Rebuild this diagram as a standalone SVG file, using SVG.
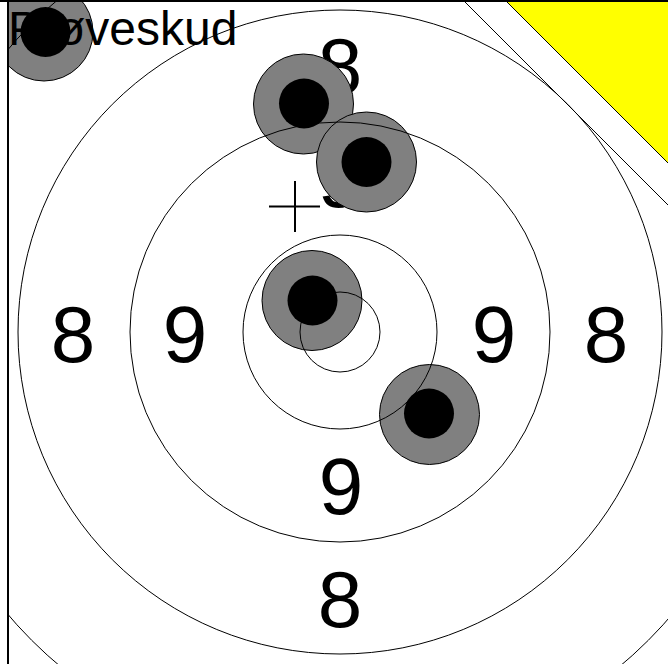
<svg xmlns="http://www.w3.org/2000/svg" width="668" height="664" viewBox="0 0 668 664">
  <style>
    .ring { fill: none; stroke: #000; stroke-width: 1; }
    .lbl { font-family: "Liberation Sans", Arial, sans-serif; font-size: 80px; fill: #000; text-anchor: middle; }
    .outer { fill: #808080; stroke: #000; stroke-width: 1; }
    .inner { fill: #000; }
    .title { font-family: "Liberation Sans", Arial, sans-serif; font-size: 48px; fill: #000; }
  </style>
  <defs>
    <clipPath id="frame"><rect x="8" y="1" width="660" height="663"/></clipPath>
  </defs>
  <rect x="0" y="0" width="668" height="664" fill="#fff"/>
  <g clip-path="url(#frame)">
    <g id="labels">
      <text class="lbl" x="340" y="94">8</text>
      <text class="lbl" x="340" y="207">9</text>
      <text class="lbl" x="73" y="362">8</text>
      <text class="lbl" x="185" y="362">9</text>
      <text class="lbl" x="494" y="362">9</text>
      <text class="lbl" x="606" y="362">8</text>
      <text class="lbl" x="341" y="514">9</text>
      <text class="lbl" x="340" y="627">8</text>
    </g>
    <g id="cross" stroke="#000" stroke-width="2">
      <line x1="269" y1="206.5" x2="320" y2="206.5"/>
      <line x1="295" y1="181" x2="295" y2="232"/>
    </g>
    <g id="shot1"><circle class="outer" cx="44" cy="32" r="49"/><circle class="inner" cx="45.5" cy="32" r="25"/></g>
    <g id="shot2"><circle class="outer" cx="303.5" cy="104" r="50"/><circle class="inner" cx="304" cy="103.5" r="25"/></g>
    <g id="shot3"><circle class="outer" cx="366.5" cy="162" r="50"/><circle class="inner" cx="366.5" cy="162" r="25"/></g>
    <g id="shot4"><circle class="outer" cx="312" cy="300.5" r="50"/><circle class="inner" cx="312.5" cy="300.5" r="25"/></g>
    <g id="shot5"><circle class="outer" cx="429.5" cy="414.5" r="50"/><circle class="inner" cx="429" cy="413.5" r="25"/></g>
    <g id="rings">
      <circle class="ring" cx="340" cy="332" r="40"/>
      <circle class="ring" cx="340" cy="332" r="97"/>
      <circle class="ring" cx="340" cy="332" r="210"/>
      <circle class="ring" cx="340" cy="332" r="322"/>
      <circle class="ring" cx="340" cy="332" r="436"/>
      <line x1="465" y1="2" x2="668" y2="205" stroke="#000" stroke-width="1"/>
    </g>
    <g id="marker">
      <polygon points="507,2 668,2 668,163" fill="#ffff00"/>
      <line x1="507" y1="2" x2="668" y2="163" stroke="#000" stroke-width="1"/>
    </g>
    <text class="title" x="8" y="45">Prøveskud</text>
  </g>
  <g id="frame-lines" stroke="#000" stroke-width="2">
    <line x1="0" y1="1" x2="668" y2="1"/>
    <line x1="8" y1="0" x2="8" y2="664"/>
  </g>
</svg>
